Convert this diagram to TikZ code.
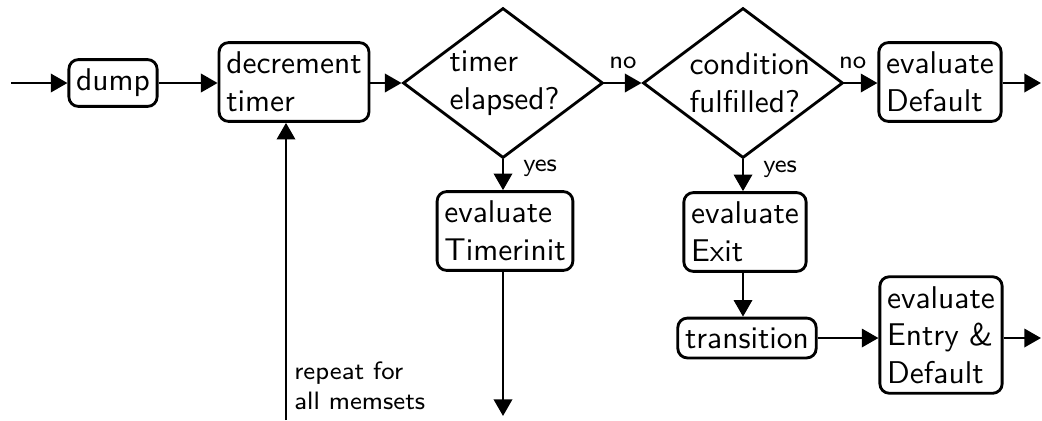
\documentclass[tikz,border=0pt]{standalone}
\usetikzlibrary{shapes.geometric,arrows.meta}
\begin{document}
\begin{tikzpicture}[x=0.318pt,y=-0.318pt,
  font=\sffamily,
  stepbox/.style={draw, line width=0.9pt, rounded corners=3pt, align=left,
    inner xsep=2.3pt, inner ysep=3pt},
  decision/.style={draw, line width=0.9pt, diamond, aspect=1.333, inner sep=0pt,
    text width=3.4em, align=left, minimum width=63.6pt, minimum height=47.7pt},
  flow/.style={line width=0.9pt, -{Triangle[length=5.3pt,width=5.8pt]}},
  lbl/.style={font=\sffamily\footnotesize, inner sep=1.5pt}]
\useasboundingbox (0,0) rectangle (1042,420);

% main row
\node[stepbox] (dump) at (113,83) {dump};
\node[stepbox] (dec) at (294,82) {decrement\\timer};
\node[decision] (el) at (503,83) {timer\\elapsed?};
\node[decision] (cf) at (743,83) {condition\\fulfilled?};
\node[stepbox] (def) at (940,82) {evaluate\\Default};

% branches
\node[stepbox] (ti) at (505,231) {evaluate\\Timerinit};
\node[stepbox] (ex) at (745,232) {evaluate\\Exit};
\node[stepbox] (tr) at (747,338) {transition};
\node[stepbox] (en) at (941,335) {evaluate\\Entry \&\\Default};

% free ends
\coordinate (in) at (11,83);
\coordinate (out1) at (1041,83);
\coordinate (out2) at (1041,338);
\coordinate (rep) at (286,420);
\coordinate (tiend) at (503,416);

% connectors
\draw[flow] (in) -- (dump);
\draw[flow] (dump) -- (dump -| dec.west);
\draw[flow] (dec.east |- el) -- (el);
\draw[flow] (el) -- node[lbl, above, yshift=2.5pt] {no} (cf);
\draw[flow] (cf) -- node[lbl, above, yshift=2.5pt, pos=0.25] {no} (def.west |- cf);
\draw[flow] (def.east |- out1) -- (out1);
\draw[flow] (el) -- node[lbl, right, xshift=4.5pt, yshift=2pt] {yes} (el |- ti.north);
\draw[flow] (cf) -- node[lbl, right, xshift=4.5pt, yshift=2pt] {yes} (cf |- ex.north);
\draw[flow] (cf |- ex.south) -- (cf |- tr.north);
\draw[flow] (tr) -- (tr -| en.west);
\draw[flow] (en.east |- tr) -- (out2);
\draw[flow] (el |- ti.south) -- (tiend);
\draw[flow] (rep) -- (rep |- dec.south);
\node[lbl, anchor=west, align=left] (rlbl) at (289,386) {repeat for\\all memsets};
\end{tikzpicture}
\end{document}
